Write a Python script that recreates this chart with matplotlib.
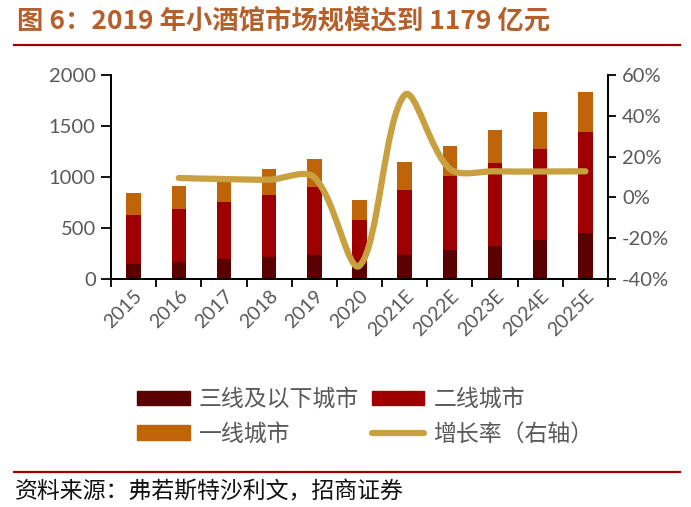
import matplotlib
matplotlib.use("Agg")
import matplotlib.pyplot as plt
from matplotlib.path import Path
from matplotlib.patches import PathPatch, Patch
from matplotlib.lines import Line2D
from matplotlib.ticker import FuncFormatter, FixedLocator, NullFormatter
import numpy as np

plt.rcParams['font.family'] = ['Lato', 'Noto Sans CJK SC', 'DejaVu Sans']

years = ['2015', '2016', '2017', '2018', '2019', '2020',
         '2021E', '2022E', '2023E', '2024E', '2025E']
tier3 = [144, 170, 193, 216, 238, 150, 232, 281, 324, 382, 448]
tier2 = [483, 519, 559, 608, 664, 428, 644, 729, 810, 893, 990]
tier1 = [213, 223, 208, 254, 277, 193, 268, 294, 327, 359, 392]
growth_years = years[1:]
growth = [9.5, 9.0, 8.7, 9.8, -33.5, 50.2, 14.0, 12.8, 12.7, 12.8]

c_dark = '#5A0000'
c_red = '#9E0000'
c_orange = '#C0640A'
c_gold = '#C8A040'
c_gray = '#595959'

fig = plt.figure(figsize=(6.91, 5.07), dpi=100)
ax = fig.add_axes([111/691, 1-279/507, (608-111)/691, (279-75)/507])
ax2 = ax.twinx()

x = np.arange(len(years))
w = 0.32
b1 = np.array(tier3)
b2 = b1 + np.array(tier2)
ax.bar(x, tier3, w, color=c_dark, zorder=2)
ax.bar(x, tier2, w, bottom=b1, color=c_red, zorder=2)
ax.bar(x, tier1, w, bottom=b2, color=c_orange, zorder=2)

ax.set_xlim(-0.5, len(years) - 0.5)
ax.set_ylim(0, 2000)
ax.set_yticks([0, 500, 1000, 1500, 2000])
ax2.set_xlim(-0.5, len(years) - 0.5)
ax2.set_ylim(-40, 60)
ax2.set_yticks([-40, -20, 0, 20, 40, 60])
ax2.yaxis.set_major_formatter(FuncFormatter(lambda v, p: f"{int(v)}%"))

# smooth growth line: Bezier with chord-length scaled tangents (Excel-like smoothing)
gx = np.array([years.index(y) for y in growth_years], dtype=float)
gy = np.array(growth, dtype=float)
T = ax2.transData
P = T.transform(np.column_stack([gx, gy]))
n = len(P)
verts = [P[0]]
codes = [Path.MOVETO]
def ctrl(i, j):
    prv = P[max(i-1, 0)]
    nxt = P[min(i+1, n-1)]
    d_prev = np.linalg.norm(P[i] - prv)
    d_next = np.linalg.norm(nxt - P[i])
    tot = d_prev + d_next
    seg = np.linalg.norm(P[j] - P[i])
    tan = (nxt - prv) / tot if tot > 0 else np.zeros(2)
    sign = 1 if j > i else -1
    return P[i] + sign * tan * seg / 3
for i in range(n - 1):
    verts += [ctrl(i, i+1), ctrl(i+1, i), P[i+1]]
    codes += [Path.CURVE4]*3
dverts = T.inverted().transform(np.array(verts))
path = Path(dverts, codes)
ax2.add_patch(PathPatch(path, facecolor='none', edgecolor=c_gold, lw=4.5,
                        capstyle='round', joinstyle='round', zorder=3))

# x ticks at category boundaries
ax.xaxis.set_major_locator(FixedLocator(np.arange(-0.5, len(years), 1.0)))
ax.xaxis.set_major_formatter(NullFormatter())
ax.set_xticks(x, minor=True)
ax.set_xticklabels(years, minor=True, rotation=45, ha='right', va='top',
                   rotation_mode='anchor', fontsize=14, color=c_gray)
ax.tick_params(axis='x', which='minor', length=0, pad=6)
ax.tick_params(axis='x', which='major', direction='out', length=6, width=1.3, color='black')
ax.tick_params(axis='y', direction='out', length=7, width=1.3, labelsize=14.5,
               labelcolor=c_gray, pad=4)
ax2.tick_params(axis='y', direction='out', length=6, width=1.3, labelsize=14.5,
                labelcolor=c_gray, pad=4)

for a in (ax, ax2):
    a.spines['top'].set_visible(False)
    for s in ('left', 'right', 'bottom'):
        a.spines[s].set_linewidth(1.3)
        a.spines[s].set_color('black')

# legend
handles = [Patch(color=c_dark, label='三线及以下城市'),
           Patch(color=c_orange, label='一线城市'),
           Patch(color=c_red, label='二线城市'),
           Line2D([0], [0], color=c_gold, lw=4.5, solid_capstyle='round', label='增长率（右轴）')]
leg = fig.legend(handles=handles, ncol=2, loc='upper left',
                 bbox_to_anchor=(137/691, 1-388/507), frameon=False,
                 prop={'family': ['Noto Sans CJK SC'], 'size': 16.5},
                 handlelength=2.3, handleheight=0.6, handletextpad=0.4,
                 columnspacing=0.55, labelspacing=0.5, borderpad=0, borderaxespad=0)
for t in leg.get_texts():
    t.set_color(c_gray)

# title and rules
fig.text(17/691, 1-21/507, '图 6：2019 年小酒馆市场规模达到 1179 亿元', fontsize=19,
         fontweight='bold', color='#B5602B', va='center', ha='left',
         family=['Noto Sans CJK SC', 'DejaVu Sans'])
fig.add_artist(Line2D([14/691, 680/691], [1-44.5/507, 1-44.5/507], color='#A00000', lw=1.6))
fig.add_artist(Line2D([14/691, 680/691], [1-472/507, 1-472/507], color='#A00000', lw=1.6))
fig.text(15/691, 1-492/507, '资料来源：弗若斯特沙利文，招商证券', fontsize=16.5,
         color='#111111', va='center', ha='left', family=['Noto Sans CJK SC', 'DejaVu Sans'])

fig.savefig('out.png', dpi=100)
